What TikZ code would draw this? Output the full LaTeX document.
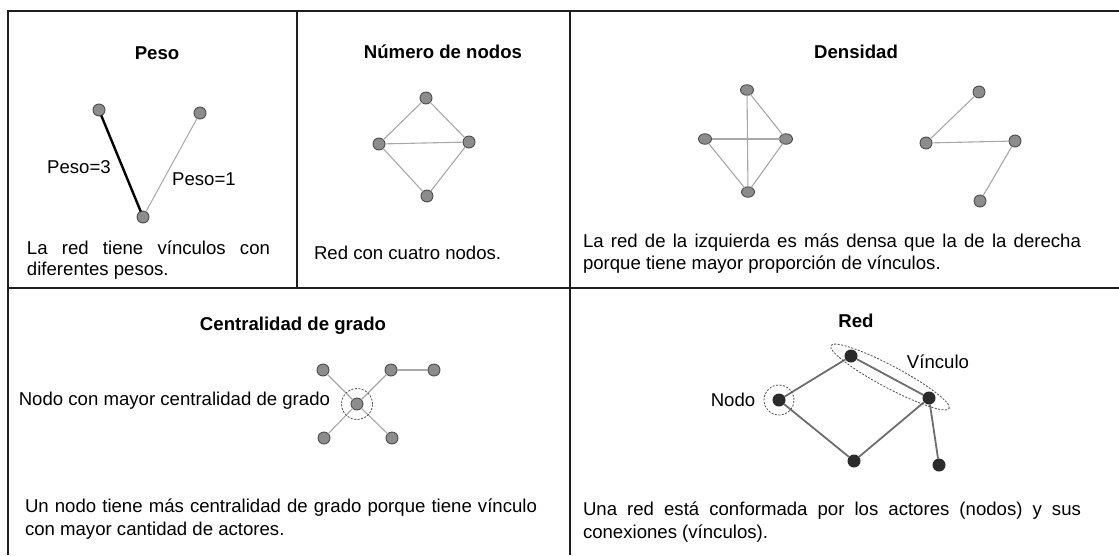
\documentclass[tikz,border=0pt]{standalone}
\usepackage{fontspec}
\setmainfont{Liberation Sans}
\usetikzlibrary{shapes.geometric,calc}
\definecolor{nodefill}{HTML}{8C8C8C}
\definecolor{nodeline}{HTML}{4D4D4D}
\definecolor{edgegray}{HTML}{A8A8A8}
\definecolor{darknode}{HTML}{2B2B2B}
\definecolor{rededge}{HTML}{6E6E6E}
\definecolor{tablecol}{HTML}{1E1E1E}
\begin{document}
\begin{tikzpicture}[x=1pt,y=-1pt,
  every node/.style={font=\fontsize{18.6}{22}\selectfont, inner sep=0pt, outer sep=0pt},
  titletext/.style={font=\bfseries\fontsize{18.6}{22}\selectfont},
  bodytext/.style={anchor=mid west},
  gnode/.style={circle, draw=nodeline, fill=nodefill, line width=0.9pt, minimum size=12pt},
  enode/.style={ellipse, draw=nodeline, fill=nodefill, line width=0.9pt, minimum width=13pt, minimum height=10.5pt},
  dnode/.style={circle, fill=darknode, minimum size=13pt},
  gedge/.style={draw=edgegray, line width=1.1pt},
  redge/.style={draw=rededge, line width=1.8pt},
  ring/.style={draw=nodeline, dashed, dash pattern=on 2pt off 1.5pt, line width=0.8pt},
  tableline/.style={draw=tablecol, line width=1.4pt}
]
\useasboundingbox (0,0) rectangle (1119,555);
\fill[white] (0,0) rectangle (1119,555);

% table
\draw[tableline, line width=1.8pt] (8,11) -- (1119,11);
\draw[tableline] (8,288) -- (1119,288);
\draw[tableline] (8,10) -- (8,555);
\draw[tableline] (297,11) -- (297,288);
\draw[tableline] (570,11) -- (570,555);

% ---------- Peso ----------
\node[titletext] (tpeso) at (157,53) {Peso};
\node[gnode] (p1) at (99,110) {};
\node[gnode] (p2) at (200,113) {};
\node[gnode] (p3) at (143,217) {};
\draw[draw=black, line width=2.4pt] (p1) -- (p3);
\draw[draw=edgegray, line width=1pt] (p2) -- (p3);
\node (lp3) at (79,167) {Peso=3};
\node (lp1) at (204,179) {Peso=1};
\node[bodytext] (bpeso1) at (27,252) {\makebox[243pt][s]{La red tiene vínculos con}};
\node[bodytext] (bpeso2) at (27,273) {diferentes pesos.};

% ---------- Numero de nodos ----------
\node[titletext] (tnum) at (443,52) {Número de nodos};
\node[gnode] (n1) at (426,98) {};
\node[gnode] (n2) at (379,144) {};
\node[gnode] (n3) at (469,142) {};
\node[gnode] (n4) at (427,196) {};
\draw[gedge] (n1) -- (n2);
\draw[gedge] (n1) -- (n3);
\draw[gedge] (n2) -- (n3);
\draw[gedge] (n2) -- (n4);
\draw[gedge] (n3) -- (n4);
\node[bodytext] (bnum) at (314,257) {Red con cuatro nodos.};

% ---------- Densidad ----------
\node[titletext] (tden) at (856,52) {Densidad};
\node[enode] (d1) at (747,90) {};
\node[enode] (d2) at (705,139) {};
\node[enode] (d3) at (786,139) {};
\node[enode] (d4) at (748,192) {};
\draw[gedge] (d1) -- (d4);
\draw[gedge] (d2) -- (d3);
\draw[gedge] (d1) -- (d3);
\draw[gedge] (d3) -- (d4);
\draw[gedge] (d2) -- (d4);
\node[gnode] (e1) at (979,92) {};
\node[gnode] (e2) at (926,143) {};
\node[gnode] (e3) at (1015,141) {};
\node[gnode] (e4) at (980,201) {};
\draw[gedge] (e1) -- (e2);
\draw[gedge] (e2) -- (e3);
\draw[gedge] (e3) -- (e4);
\node[bodytext] (bden1) at (583,245) {\makebox[498pt][s]{La red de la izquierda es más densa que la de la derecha}};
\node[bodytext] (bden2) at (583,267) {porque tiene mayor proporción de vínculos.};

% ---------- Centralidad de grado ----------
\node[titletext] (tcen) at (293,326) {Centralidad de grado};
\node[gnode] (c0) at (357,404) {};
\node[gnode] (c1) at (323,370) {};
\node[gnode] (c2) at (391,370) {};
\node[gnode] (c3) at (434,370) {};
\node[gnode] (c4) at (324,438) {};
\node[gnode] (c5) at (392,438) {};
\draw[gedge] (c0) -- (c1);
\draw[gedge] (c0) -- (c2);
\draw[gedge] (c2) -- (c3);
\draw[gedge] (c0) -- (c4);
\draw[gedge] (c0) -- (c5);
\node[ring, circle, minimum size=31pt] (cring) at (c0) {};
\node[anchor=mid east] (lcen) at (330,403) {Nodo con mayor centralidad de grado};
\node[bodytext] (bcen1) at (25,510) {\makebox[512pt][s]{Un nodo tiene más centralidad de grado porque tiene vínculo}};
\node[bodytext] (bcen2) at (25,533) {con mayor cantidad de actores.};

% ---------- Red ----------
\node[titletext] (tred) at (856,321) {Red};
\node[dnode] (ra) at (851,356) {};
\node[dnode] (rb) at (929,398) {};
\node[dnode] (rc) at (779,400) {};
\node[dnode] (rd) at (854,461) {};
\node[dnode] (re) at (939,465) {};
\draw[redge] (rc) -- (ra);
\draw[redge] (ra) -- (rb);
\draw[redge] (rb) -- (rd);
\draw[redge] (rd) -- (rc);
\draw[redge] (rb) -- (re);
\node[ring, circle, minimum size=30pt] (rring) at (rc) {};
\node[ring, ellipse, minimum width=134pt, minimum height=22pt, rotate=-28] (vring) at ($(ra)!0.5!(rb)$) {};
\node (lvin) at (938,362) {Vínculo};
\node (lnodo) at (733,400) {Nodo};
\node[bodytext] (bred1) at (583,513) {\makebox[498pt][s]{Una red está conformada por los actores (nodos) y sus}};
\node[bodytext] (bred2) at (583,536) {conexiones (vínculos).};
\end{tikzpicture}
\end{document}
